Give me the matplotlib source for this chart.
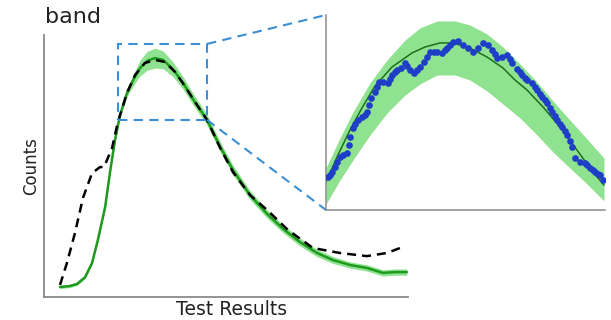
import matplotlib
matplotlib.use("Agg")
import matplotlib.pyplot as plt
from matplotlib.patches import Rectangle
import numpy as np

plt.rcParams['font.family'] = ['DejaVu Sans']

# ---------------- data (arbitrary units) ----------------
# main panel: fitted model curve (green) and measured histogram (black dashed)
fit_x = [4.4, 7.1, 9.1, 11.3, 13.2, 14.8, 16.8, 18.1, 19.5, 20.9, 22.8, 24.5, 26.4, 28.3,
         30.5, 32.7, 35.4, 38.2, 40.9, 44.8, 48.4, 51.9, 56.6, 61.3, 65.7, 70.3, 75.0,
         79.4, 84.1, 88.7, 93.1, 96.4, 99.7]
fit_y = [3.8, 4.2, 5.0, 7.6, 13.0, 21.8, 34.4, 47.3, 59.9, 69.5, 77.9, 82.8, 87.4, 90.1,
         91.2, 90.5, 87.0, 81.7, 75.6, 67.6, 57.3, 48.5, 38.9, 31.7, 26.0, 21.0, 16.8,
         14.1, 12.2, 11.1, 9.2, 9.5, 9.5]
fit_band = [0.6, 0.6, 0.6, 0.6, 0.6, 1.0, 1.0, 1.0, 1.0, 1.0, 1.5, 2.2, 3.0, 3.6,
            3.8, 3.4, 2.8, 2.4, 2.2, 2.0, 1.9, 1.8, 1.7, 1.6, 1.5, 1.5, 1.4,
            1.3, 1.2, 1.2, 1.2, 1.2, 1.2]

meas_x = [4.4, 6.3, 8.5, 10.7, 13.2, 15.4, 16.5, 18.7, 20.3, 22.8, 25.0, 27.7, 30.5, 33.2,
          36.0, 38.7, 41.5, 44.8, 48.4, 51.9, 56.6, 61.3, 67.0, 73.9, 81.3, 88.7, 94.2, 97.8]
meas_y = [4.6, 13.0, 24.4, 37.8, 47.3, 49.6, 49.6, 56.9, 66.8, 77.9, 84.7, 89.3, 90.5, 89.7,
          85.9, 80.5, 74.4, 67.6, 56.9, 47.7, 38.9, 33.2, 25.6, 18.7, 16.8, 15.6, 16.8, 18.7]

# zoom window (main data units)
zoom_x = [20.3, 44.8]
zoom_y = [67.6, 96.6]

# inset: fitted curve, confidence band, data points
in_fit_x = [20.30, 21.35, 22.41, 23.46, 24.60, 26.10, 27.85, 28.99, 30.31, 31.45, 32.94,
            34.44, 35.84, 36.90, 37.95, 39.36, 40.85, 42.34, 43.74, 44.71]
in_fit_y = [71.76, 75.78, 79.50, 82.77, 86.04, 88.87, 90.95, 91.84, 92.44, 92.44, 91.69,
            90.35, 88.72, 86.93, 85.45, 82.92, 79.94, 76.52, 73.25, 71.32]

in_band_x = [20.30, 21.53, 22.67, 24.16, 25.66, 27.24, 28.55, 30.05, 31.63, 32.94, 34.44,
             35.84, 37.34, 38.83, 40.23, 41.72, 43.22, 44.71]
in_band_hi = [73.85, 78.31, 82.17, 86.49, 89.91, 92.88, 94.67, 95.71, 95.71, 95.11, 93.78,
              91.84, 89.31, 86.64, 83.81, 80.98, 78.16, 75.33]
in_band_lo = [68.49, 72.06, 75.04, 78.75, 82.03, 84.70, 86.34, 87.68, 87.68, 86.93, 85.30,
              83.36, 81.28, 78.75, 76.23, 73.85, 71.47, 68.94]

pts_x = [20.48, 20.65, 20.83, 21.09, 21.27, 21.53, 21.79, 22.14, 22.32, 22.41, 22.67, 22.85,
         23.11, 23.46, 23.72, 23.90, 24.08, 24.25, 24.60, 24.78, 24.95, 25.31, 25.74, 25.92,
         26.10, 26.36, 26.53, 26.89, 27.24, 27.41, 27.68, 28.03, 28.29, 28.55, 28.91, 29.17,
         29.43, 29.78, 30.05, 30.49, 30.75, 30.93, 31.19, 31.45, 31.89, 32.33, 32.77, 33.21,
         33.65, 34.09, 34.53, 34.88, 35.14, 35.32, 35.76, 36.19, 36.46, 36.63, 37.07, 37.34,
         37.51, 37.77, 37.95, 38.39, 38.65, 38.83, 39.09, 39.27, 39.53, 39.71, 39.97, 40.15,
         40.41, 40.58, 40.85, 41.02, 41.29, 41.46, 41.73, 41.90, 42.17, 42.60, 43.04, 43.22,
         43.48, 43.75, 43.92, 44.18, 44.36, 44.62]
pts_y = [72.51, 72.81, 73.25, 73.99, 74.74, 75.48, 75.78, 76.08, 77.27, 78.46, 79.80, 80.39,
         80.99, 81.43, 81.73, 82.17, 83.22, 84.26, 85.15, 85.89, 86.64, 86.64, 86.49, 87.08,
         87.68, 88.12, 88.42, 88.72, 89.46, 89.02, 88.42, 87.97, 88.42, 88.87, 89.61, 90.35,
         91.10, 91.10, 91.10, 90.95, 91.40, 91.69, 92.14, 92.59, 92.73, 92.14, 91.69, 91.10,
         91.69, 92.44, 92.14, 91.40, 90.80, 90.21, 90.35, 90.65, 90.06, 89.46, 88.57, 88.12,
         87.68, 87.23, 86.93, 86.49, 85.89, 85.45, 84.85, 84.41, 83.96, 83.51, 82.77, 82.17,
         81.58, 80.99, 80.39, 79.94, 79.35, 78.75, 77.86, 76.97, 75.33, 74.74, 74.59, 74.29,
         73.85, 73.55, 73.25, 72.95, 72.81, 72.06]

# ---------------- styles ----------------
BAND = '#8fe28f'
LINE_MAIN = '#1f9a1f'
LINE_INSET = '#1d6f1d'
DOTS = '#1e3ec8'
ZOOM = '#3a8fd6'
SPINE = '#8a8a8a'
TEXT = '#222222'
ZDASH = (0, (4.5, 3.0))

fig = plt.figure(figsize=(6.11, 3.2), dpi=100)
W, H = 611.0, 320.0

ax = fig.add_axes([44 / W, 23 / H, 364 / W, 262 / H])
ax.set_xlim(0, 100)
ax.set_ylim(0, 100)
ax.patch.set_alpha(0)

fx = np.array(fit_x)
fy = np.array(fit_y)
fb = np.array(fit_band)
ax.fill_between(fx, fy - fb, fy + fb, color=BAND, lw=0, zorder=1)
ax.plot(fx, fy, color=LINE_MAIN, lw=1.8, zorder=2, solid_capstyle='round',
        solid_joinstyle='round')
ax.plot(meas_x, meas_y, color='black', lw=1.8, linestyle=(0, (3.6, 2.4)), zorder=3)

ax.add_patch(Rectangle((zoom_x[0], zoom_y[0]), zoom_x[1] - zoom_x[0], zoom_y[1] - zoom_y[0],
                       fill=False, edgecolor=ZOOM, lw=1.5, linestyle=ZDASH, zorder=4))

for s in ['top', 'right']:
    ax.spines[s].set_visible(False)
for s in ['left', 'bottom']:
    ax.spines[s].set_color(SPINE)
    ax.spines[s].set_linewidth(1.3)
ax.set_xticks([])
ax.set_yticks([])
ax.set_xlabel('Test Results', fontsize=13.5, color=TEXT)
ax.xaxis.set_label_coords(0.514, -0.012)
ax.set_ylabel('Counts', fontsize=12, color=TEXT, labelpad=3)

fig.text(45 / W, 1 - 23 / H, 'band', fontsize=16, color=TEXT, va='baseline', ha='left')

# inset
axi = fig.add_axes([326 / W, 110 / H, 279 / W, 195 / H])
axi.set_xlim(zoom_x[0], zoom_x[1])
axi.set_ylim(zoom_y[0], zoom_y[1])
axi.fill_between(in_band_x, in_band_lo, in_band_hi, color=BAND, lw=0, zorder=1)
axi.plot(in_fit_x, in_fit_y, color=LINE_INSET, lw=1.1, zorder=2)
axi.plot(pts_x, pts_y, 'o', color=DOTS, ms=4.8, mew=0, zorder=3)
for s in ['top', 'right']:
    axi.spines[s].set_visible(False)
for s in ['left', 'bottom']:
    axi.spines[s].set_color(SPINE)
    axi.spines[s].set_linewidth(1.1)
axi.set_xticks([])
axi.set_yticks([])

# connector lines from zoom box corners to inset corners (computed via transforms)
to_main = ax.transData.inverted()
for ya, corner in [(zoom_y[1], (0, 1)), (zoom_y[0], (0, 0))]:
    cx, cy = to_main.transform(axi.transAxes.transform(corner))
    ax.plot([zoom_x[1], cx], [ya, cy], color=ZOOM, lw=1.5, linestyle=ZDASH,
            clip_on=False, zorder=4)

fig.savefig('out.png', dpi=100)
